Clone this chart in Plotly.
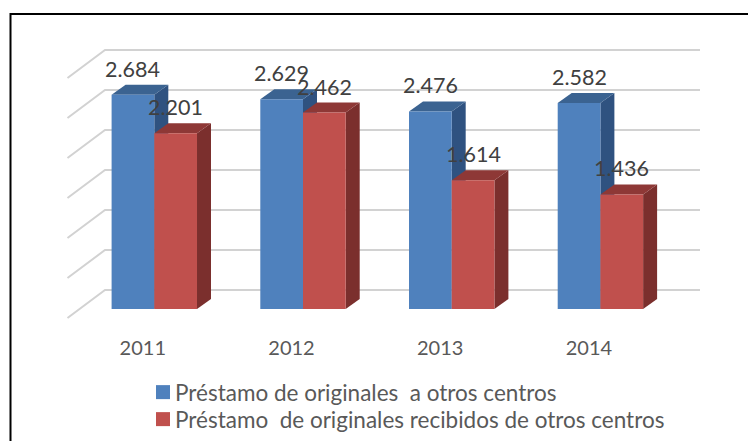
import plotly.graph_objects as go

years = ["2011", "2012", "2013", "2014"]
prestado = [2684, 2629, 2476, 2582]
recibido = [2201, 2462, 1614, 1436]
name_a = "Préstamo de originales  a otros centros"
name_b = "Préstamo  de originales recibidos de otros centros"
grid_values = [0, 500, 1000, 1500, 2000, 2500, 3000]

W, H = 748, 441
L, R, T, B = 60, 700, 40, 325     # plot area in pixels
X0_PX, X_STEP = 154.3, 148.7      # first category centre, px per category
Y0_PX, Y_SCALE = 309.0, 0.0798    # value 0 at bar front, px per unit
BAR_W = 42.7 / X_STEP

def px_dx(p): return p / X_STEP
def px_dy(p): return p / Y_SCALE

x_range = [(L - X0_PX) / X_STEP, (R - X0_PX) / X_STEP]
y_range = [(Y0_PX - B) / Y_SCALE, (Y0_PX - T) / Y_SCALE]

DX, DY = px_dx(14), px_dy(10)
shapes = []

def poly(xs, ys, color):
    path = "M" + " L".join(f"{x:.4f},{y:.2f}" for x, y in zip(xs, ys)) + " Z"
    shapes.append(dict(type="path", path=path, xref="x", yref="y", layer="below",
                       fillcolor=color, line=dict(width=0)))

# wall gridlines
GRID = "#D2D2D2"
wall_up = px_dy(19)
wall_x0 = px_dx(105 - X0_PX)
wall_x1 = px_dx(700 - X0_PX)
front_x = px_dx(67.5 - X0_PX)
front_down = px_dy(-9)
for v in grid_values:
    path = (f"M{front_x:.4f},{v*0.08/Y_SCALE+front_down:.2f} "
            f"L{wall_x0:.4f},{v*0.08/Y_SCALE+wall_up:.2f} "
            f"L{wall_x1:.4f},{v*0.08/Y_SCALE+wall_up:.2f}")
    shapes.append(dict(type="path", path=path, xref="x", yref="y", layer="below",
                       line=dict(color=GRID, width=2)))

# depth faces of the bars
for i in range(len(years)):
    for left, val, top_c, side_c in (
        (i - BAR_W, prestado[i], "#3B6391", "#2F5280"),
        (i, recibido[i], "#8E3836", "#7B2F2D"),
    ):
        right = left + BAR_W
        poly([right, right + DX, right + DX, right],
             [0, DY, val + DY, val], side_c)
        poly([left, left + DX, right + DX, right],
             [val, val + DY, val + DY, val], top_c)

fig = go.Figure()
fig.add_bar(x=list(range(4)), y=prestado, marker=dict(color="#4F81BD", line=dict(width=0)),
            name=name_a, showlegend=False)
fig.add_bar(x=list(range(4)), y=recibido, marker=dict(color="#C0504D", line=dict(width=0)),
            name=name_b, showlegend=False)
fig.add_scatter(x=[None], y=[None], mode="markers", name=name_a,
                marker=dict(symbol="square", size=14, color="#4F81BD"))
fig.add_scatter(x=[None], y=[None], mode="markers", name=name_b,
                marker=dict(symbol="square", size=14, color="#C0504D"))

LABEL_FONT = dict(family="Lato", size=21.5, color="#404040")
annotations = []
for i in range(len(years)):
    annotations.append(dict(x=i - BAR_W / 2, y=prestado[i], yshift=26, text=f"{prestado[i]/1000:.3f}",
                            showarrow=False, font=LABEL_FONT))
    annotations.append(dict(x=i + BAR_W / 2, y=recibido[i], yshift=26, text=f"{recibido[i]/1000:.3f}",
                            showarrow=False, font=LABEL_FONT))

# outer frame: left and top sides only, running off the picture
def fx(p): return (p - L) / (R - L)
def fy(p): return (B - p) / (B - T)
shapes.append(dict(type="path", xref="paper", yref="paper", layer="above",
                   path=f"M{fx(10.5)},{fy(445)} L{fx(10.5)},{fy(14)} L{fx(752)},{fy(14)}",
                   line=dict(color="#000000", width=2)))

fig.update_layout(
    width=W, height=H,
    margin=dict(l=L, r=W - R, t=T, b=H - B, autoexpand=False),
    paper_bgcolor="white", plot_bgcolor="white",
    barmode="group", bargap=1 - 2 * BAR_W, bargroupgap=0,
    font=dict(family="Lato", color="#595959"),
    shapes=shapes, annotations=annotations,
    xaxis=dict(range=x_range, tickvals=[i - 11.5 / X_STEP for i in range(4)], ticktext=years,
               showgrid=False, zeroline=False, showline=False,
               ticks="outside", ticklen=5, tickcolor="rgba(0,0,0,0)",
               tickfont=dict(family="Lato", size=20, color="#595959")),
    yaxis=dict(range=y_range, showgrid=False, zeroline=False, showline=False,
               showticklabels=False, ticks=""),
    showlegend=True,
    legend=dict(x=(135 - L) / (R - L), xanchor="left", y=fy(371), yanchor="top",
                font=dict(family="Lato", size=22.5, color="#595959"),
                bgcolor="rgba(0,0,0,0)", tracegroupgap=0, itemwidth=30),
)
post = """
document.body.style.margin='0';
document.documentElement.style.overflow='hidden';
document.querySelectorAll('.legendpoints').forEach(function(e){e.setAttribute('transform','translate(8,0)');});
var rows=document.querySelectorAll('.legend .traces');
if(rows.length==2){
  var m=/translate\\(([^,]+),\\s*([^)]+)\\)/.exec(rows[0].getAttribute('transform'));
  if(m){rows[1].setAttribute('transform','translate('+m[1]+','+(parseFloat(m[2])+27)+')');}
}
"""
fig.write_html("out.html", config={"displayModeBar": False}, post_script=post)
